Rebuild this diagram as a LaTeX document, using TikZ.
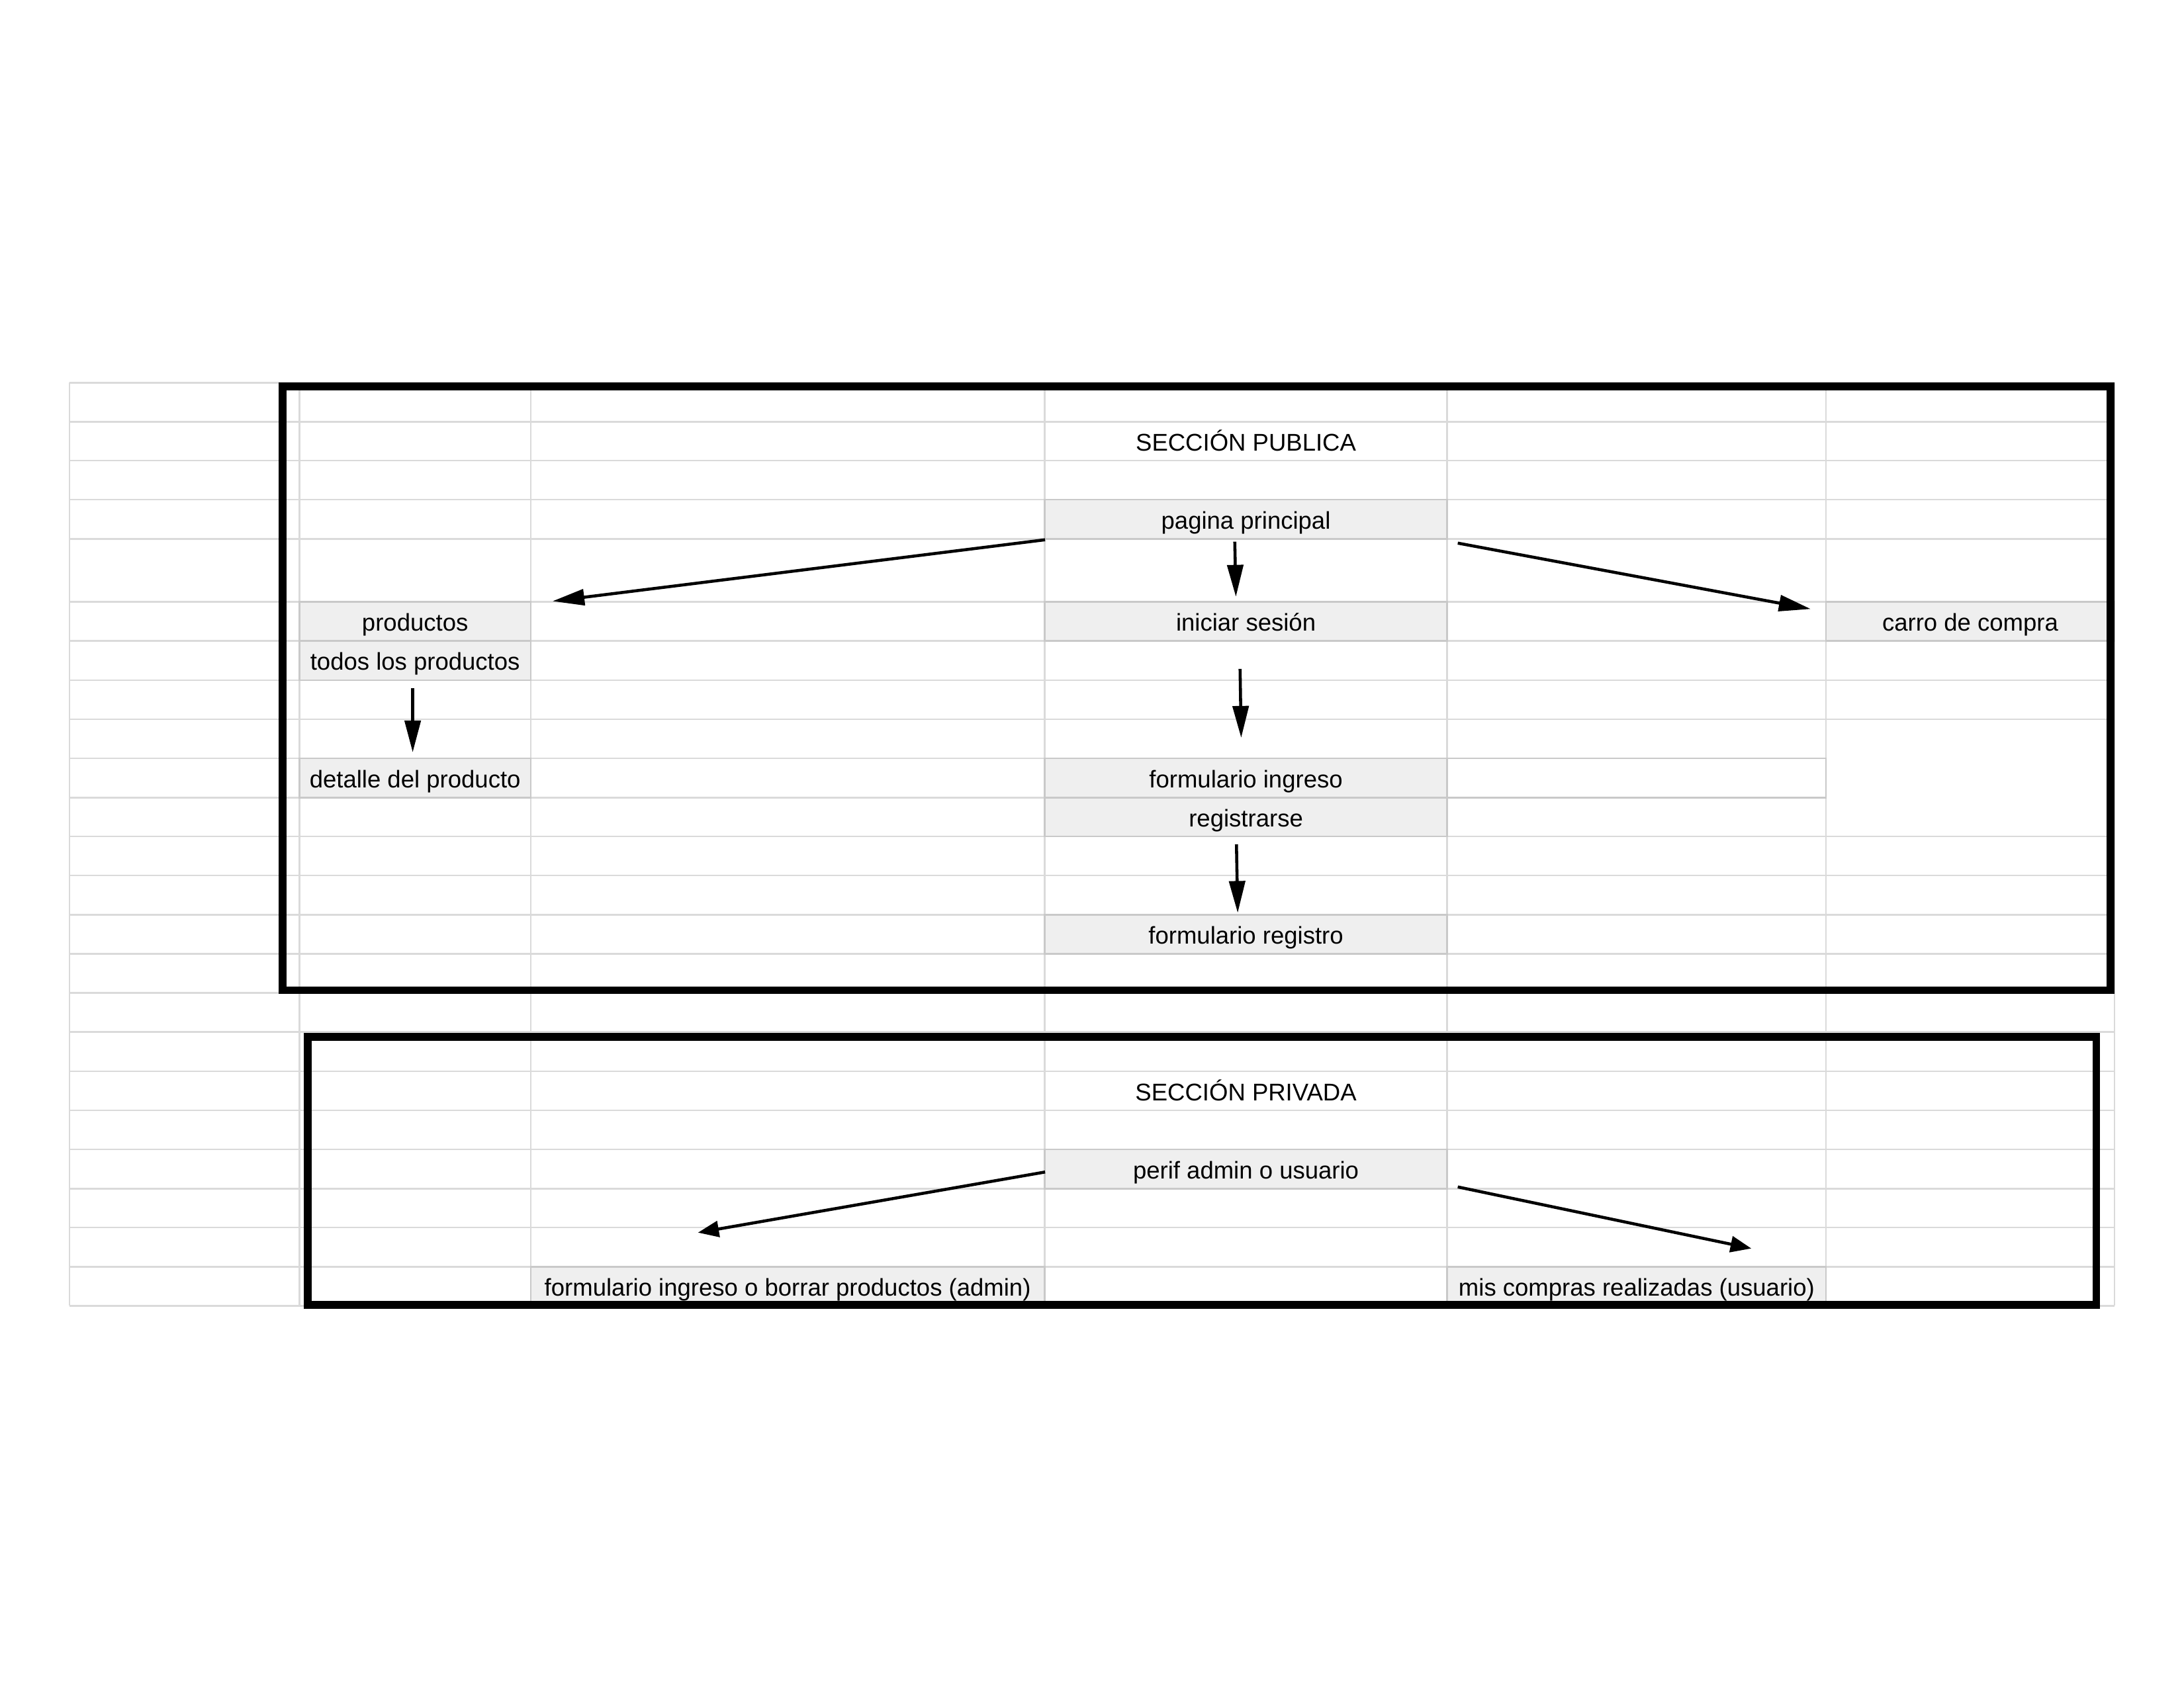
\documentclass[tikz,border=0pt]{standalone}
\usepackage{fontspec}
\setmainfont{Liberation Sans}
\usetikzlibrary{arrows.meta}
\definecolor{gridc}{HTML}{DADADA}
\definecolor{cellfill}{HTML}{EFEFEF}
\definecolor{cellline}{HTML}{C9C9C9}
\tikzset{
  gridline/.style={draw=gridc, line width=0.6pt},
  graycell/.style={fill=cellfill, draw=cellline, line width=0.6pt},
  emptycell/.style={draw=cellline, line width=0.6pt},
  lbl/.style={anchor=base, inner sep=0pt, font=\fontsize{8.8pt}{10pt}\selectfont, text=black},
  sectionbox/.style={draw=black, line width=2.8pt},
  flowlong/.style={draw=black, line width=1.1pt, -{Triangle[length=11.6pt,width=5.8pt]}},
  flowshort/.style={draw=black, line width=1.1pt, -{Triangle[length=7.6pt,width=5.8pt]}},
}
\newcommand{\gcell}[6]{%
  \draw[graycell] (#2,#3) rectangle (#4,#5);
  \node[lbl] (#1) at ({(#2+#4)/2},{#5-7.1}) {#6};}
\begin{document}
\begin{tikzpicture}[x=0.01782cm, y=-0.01782cm]
\useasboundingbox (0,0) rectangle (1568,1212);
% grid
\foreach \r in {274.8,302.9,330.8,358.8,387.0,432.2,460.2,488.4,516.6,600.7,628.7,656.8,684.9,713.0,741.1,769.2,797.3,825.4,853.5,881.5,909.6,937.7}
  \draw[gridline] (50,\r) -- (1518,\r);
\foreach \r in {544.6,572.7}
  \draw[gridline] (50,\r) -- (1311,\r);
\foreach \c in {50,215,381,750,1039,1311,1518}
  \draw[gridline] (\c,274.8) -- (\c,937.7);
% cells
\gcell{pag}{750}{358.8}{1039}{387.0}{pagina principal}
\gcell{prod}{215}{432.2}{381}{460.2}{productos}
\gcell{todos}{215}{460.2}{381}{488.4}{todos los productos}
\gcell{ini}{750}{432.2}{1039}{460.2}{iniciar sesión}
\gcell{carro}{1311}{432.2}{1518}{460.2}{carro de compra}
\gcell{det}{215}{544.6}{381}{572.7}{detalle del producto}
\gcell{fing}{750}{544.6}{1039}{572.7}{formulario ingreso}
\gcell{reg}{750}{572.7}{1039}{600.7}{registrarse}
\gcell{freg}{750}{656.8}{1039}{684.9}{formulario registro}
\gcell{perif}{750}{825.4}{1039}{853.5}{perif admin o usuario}
\gcell{admin}{381}{909.6}{750}{937.7}{formulario ingreso o borrar productos (admin)}
\gcell{usr}{1039}{909.6}{1311}{937.7}{mis compras realizadas (usuario)}
\draw[emptycell] (1039,544.6) rectangle (1311,572.7);
% titles
\node[lbl] (tpub) at (894.5,323.7) {SECCIÓN PUBLICA};
\node[lbl] (tpriv) at (894.5,790.2) {SECCIÓN PRIVADA};
% section boxes
\draw[sectionbox] (203,277.6) rectangle (1515.3,711);
\draw[sectionbox] (221,744.6) rectangle (1505,937);
% arrow end points
\coordinate (a1s) at (750.3,387.6);  \coordinate (a1e) at (396.7,431.7);
\coordinate (a2s) at (886.5,389.0);  \coordinate (a2e) at (887.3,428.5);
\coordinate (a3s) at (1046.6,390.0); \coordinate (a3e) at (1300.0,437.3);
\coordinate (a4s) at (296.3,494.2);  \coordinate (a4e) at (296.3,540.2);
\coordinate (a5s) at (890.3,480.3);  \coordinate (a5e) at (891.1,529.8);
\coordinate (a6s) at (887.7,606.3);  \coordinate (a6e) at (888.6,655.5);
\coordinate (a7s) at (750.3,841.6);  \coordinate (a7e) at (501.1,885.1);
\coordinate (a8s) at (1046.6,852.3); \coordinate (a8e) at (1257.4,896.5);
% arrows
\draw[flowlong] (a1s) -- (a1e);
\draw[flowlong] (a2s) -- (a2e);
\draw[flowlong] (a3s) -- (a3e);
\draw[flowlong] (a4s) -- (a4e);
\draw[flowlong] (a5s) -- (a5e);
\draw[flowlong] (a6s) -- (a6e);
\draw[flowshort] (a7s) -- (a7e);
\draw[flowshort] (a8s) -- (a8e);
\end{tikzpicture}
\end{document}
